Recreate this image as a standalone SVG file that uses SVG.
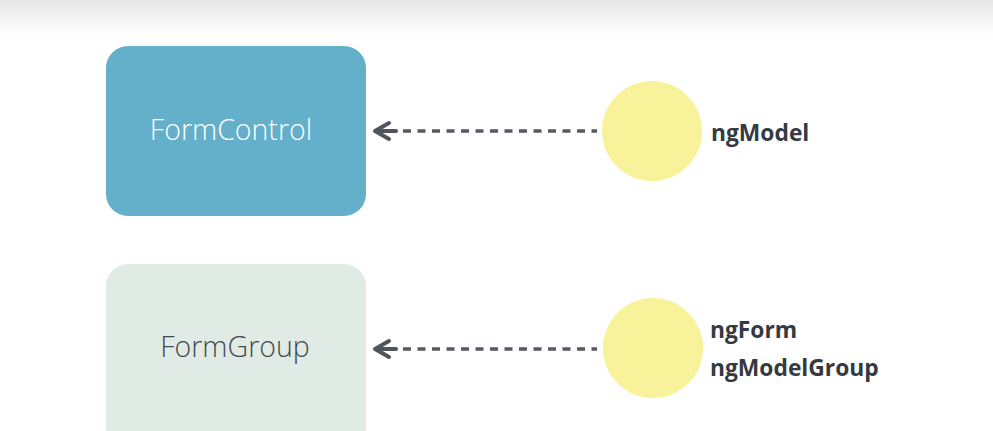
<svg xmlns="http://www.w3.org/2000/svg" width="993" height="431" viewBox="0 0 993 431">
<defs>
<linearGradient id="topfade" x1="0" y1="0" x2="0" y2="1">
<stop offset="0" stop-color="#e6e6e6"/>
<stop offset="1" stop-color="#ffffff"/>
</linearGradient>
</defs>
<style>
.box-text{font-family:"Open Sans","Liberation Sans",sans-serif;font-weight:300;font-size:28.5px;text-anchor:middle}
.lbl{font-family:"Open Sans","Liberation Sans",sans-serif;font-weight:700;font-size:22.8px;fill:#353a42}
.dot{fill:#f8f29b}
.dash{stroke:#565a61;stroke-width:3.5;stroke-dasharray:8 6.5;fill:none}
.head{stroke:#50545b;stroke-width:4;fill:none;stroke-linecap:round;stroke-linejoin:round}
</style>
<rect width="993" height="431" fill="#ffffff"/>
<rect width="993" height="36" fill="url(#topfade)"/>
<g id="connectors">
<g id="edge-ngModel">
<line class="dash" x1="403" y1="131" x2="597" y2="131"/>
<polyline class="head" points="389,123 375,131 389,139"/>
<line class="head" x1="376" y1="131" x2="396" y2="131"/>
</g>
<g id="edge-ngForm">
<line class="dash" x1="403" y1="349" x2="597" y2="349"/>
<polyline class="head" points="389,341 375,349 389,357"/>
<line class="head" x1="376" y1="349" x2="396" y2="349"/>
</g>
</g>
<g id="node-formcontrol">
<rect x="106" y="46" width="260" height="170" rx="22" fill="#64afc9"/>
<text class="box-text" x="231" y="140" fill="#ffffff">FormControl</text>
</g>
<g id="node-formgroup">
<rect x="106" y="264" width="260" height="190" rx="22" fill="#e0ebe5"/>
<text class="box-text" x="235" y="357" fill="#454a50">FormGroup</text>
</g>
<g id="node-ngmodel">
<circle class="dot" cx="652" cy="131" r="50"/>
<text class="lbl" x="711" y="141">ngModel</text>
</g>
<g id="node-ngform">
<circle class="dot" cx="653" cy="348" r="50"/>
<text class="lbl" x="710" y="338">ngForm</text>
<text class="lbl" x="710" y="376">ngModelGroup</text>
</g>
</svg>
